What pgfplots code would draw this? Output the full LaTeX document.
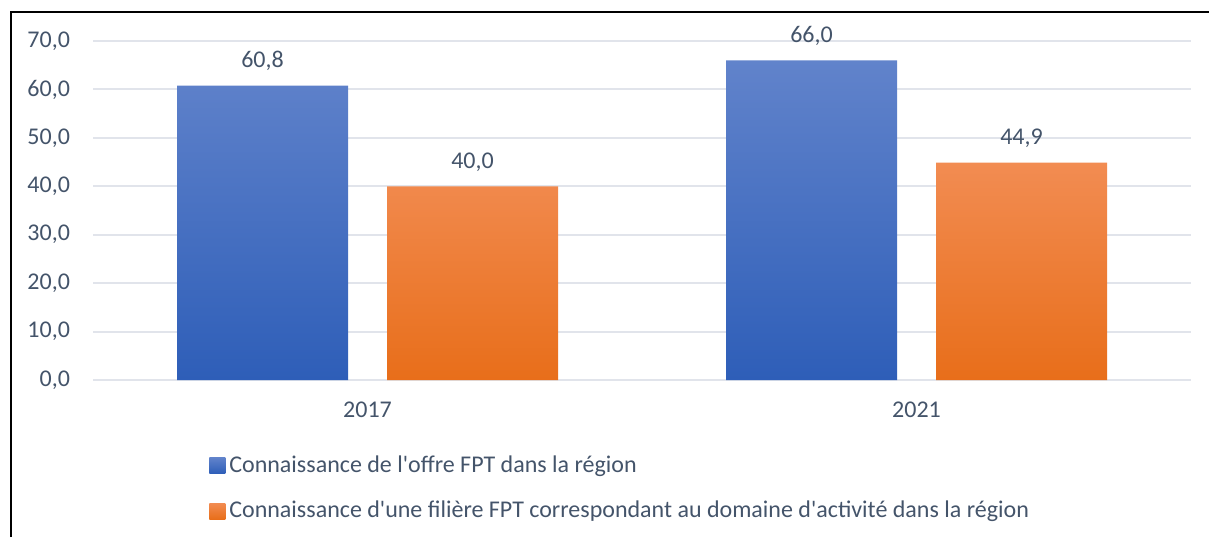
\documentclass[border=0pt]{standalone}
\usepackage{pgfplots}
\pgfplotsset{compat=1.18}
\usepackage{fontspec}
\setmainfont{Carlito}
\definecolor{txt}{RGB}{68,84,106}
\definecolor{gridc}{RGB}{225,228,235}
\definecolor{bTop}{RGB}{97,131,203}
\definecolor{bMid}{RGB}{68,114,196}
\definecolor{bBot}{RGB}{46,94,184}
\definecolor{oTop}{RGB}{242,140,82}
\definecolor{oMid}{RGB}{237,125,49}
\definecolor{oBot}{RGB}{232,110,26}
\begin{document}
\begin{tikzpicture}
\path[use as bounding box] (0,0) rectangle (604.5pt,268.5pt);
\draw[black, line width=1pt] (5.5pt,0) -- (5.5pt,262.5pt) -- (604.5pt,262.5pt);
\begin{axis}[
  at={(46.5pt,78.5pt)}, anchor=south west,
  scale only axis,
  width=549pt, height=169.5pt,
  ymin=0, ymax=70, ytick={0,10,...,70},
  xmin=-0.5, xmax=1.5,
  xtick={0,1}, xticklabels={2017,2021},
  axis line style={draw=none},
  ymajorgrids,
  major grid style={draw=gridc, line width=1pt},
  major tick length=0pt,
  tick label style={font=\fontsize{12}{14}\selectfont, text=txt},
  yticklabel style={xshift=-8pt},
  xticklabel style={yshift=-7.5pt},
  /pgf/number format/.cd, fixed, fixed zerofill, precision=1, use comma, assume math mode=true,
  /pgfplots/.cd,
  ybar=19.5pt, bar width=85.5pt,
  nodes near coords,
  nodes near coords style={font=\fontsize{12}{14}\selectfont, text=txt, yshift=4pt,
    /pgf/number format/.cd, fixed, fixed zerofill, precision=1, use comma, assume math mode=true},
  legend style={at={(0.1056,-0.21)}, anchor=north west, draw=none, fill=none,
    font=\fontsize{12}{14}\selectfont, text=txt, row sep=9pt,
    legend cell align=left, inner sep=0pt},
  legend cell align=left,
]
\addplot[draw=none, top color=bTop, middle color=bMid, bottom color=bBot,
  legend image code/.code={\path[draw=none, top color=bTop, bottom color=bBot] (0pt,-4pt) rectangle (8pt,4pt);}]
  coordinates {(0,60.8) (1,66.0)};
\addlegendentry{Connaissance de l\textquotesingle offre FPT dans la région}
\addplot[draw=none, top color=oTop, middle color=oMid, bottom color=oBot,
  legend image code/.code={\path[draw=none, top color=oTop, bottom color=oBot] (0pt,-4pt) rectangle (8pt,4pt);}]
  coordinates {(0,40.0) (1,44.9)};
\addlegendentry{Connaissance d\textquotesingle une filière FPT correspondant au domaine d\textquotesingle activité dans la région}
\end{axis}
\end{tikzpicture}
\end{document}
